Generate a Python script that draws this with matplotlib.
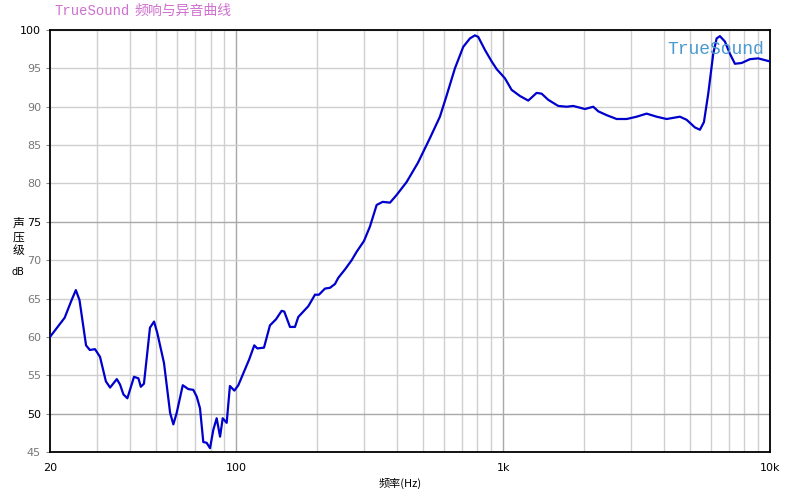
import matplotlib
matplotlib.use("Agg")
import matplotlib.pyplot as plt
from matplotlib.ticker import FixedLocator, NullFormatter

plt.rcParams['font.family'] = ['DejaVu Sans', 'Noto Sans CJK SC']

# frequency response (Hz, dB)
freq = [20, 22.7, 24.1, 25.0, 25.8, 27.3, 28.2, 29.5, 30.8, 32.4, 33.6, 35.6, 36.6,
        37.7, 39.0, 41.3, 42.9, 43.8, 45.0, 47.4, 49.1, 50.5, 53.5, 56.4, 58.0,
        59.7, 62.9, 66.0, 68.9, 71.0, 73.0, 75.1, 77.3, 79.6, 81.9, 84.3, 86.8,
        88.8, 91.9, 94.5, 98.2, 101.6, 111.7, 116.6, 119.7, 126.8, 133.5, 140.7,
        147.7, 151.1, 158.7, 165.7, 170.5, 185.9, 196.9, 203.8, 214.7, 224.2,
        234.1, 240.8, 255.2, 270.3, 282.2, 300.6, 316.6, 335.4, 353.2, 376.3,
        398.5, 434.6, 479, 531, 579, 614, 659, 708, 750, 783, 806, 854, 905, 945,
        1015, 1075, 1155, 1241, 1334, 1393, 1475, 1608, 1729, 1830, 2024, 2175,
        2271, 2442, 2662, 2902, 3162, 3447, 3758, 4097, 4596, 4869, 5231, 5462,
        5654, 5868, 6127, 6308, 6490, 6776, 7076, 7388, 7828, 8412, 9032, 10000]
spl = [60.0, 62.5, 64.8, 66.1, 64.8, 58.9, 58.3, 58.4, 57.4, 54.2, 53.4, 54.5, 53.8,
       52.5, 52.0, 54.8, 54.6, 53.5, 53.9, 61.2, 62.0, 60.5, 56.6, 50.1, 48.6,
       50.1, 53.7, 53.2, 53.1, 52.2, 50.7, 46.3, 46.2, 45.5, 47.9, 49.4, 47.0,
       49.4, 48.8, 53.6, 53.0, 53.7, 57.1, 58.9, 58.5, 58.6, 61.5, 62.3,
       63.4, 63.3, 61.3, 61.3, 62.6, 64.0, 65.5, 65.5, 66.3, 66.4,
       66.9, 67.7, 68.8, 70.0, 71.1, 72.5, 74.4, 77.2, 77.6, 77.5,
       78.5, 80.2, 82.7, 85.9, 88.7, 91.5, 95.0, 97.8, 98.9, 99.3, 99.1, 97.4, 95.9, 94.9,
       93.7, 92.2, 91.4, 90.8, 91.8, 91.7, 90.9, 90.1, 90.0, 90.1, 89.7, 90.0,
       89.4, 88.9, 88.4, 88.4, 88.7, 89.1, 88.7, 88.4, 88.7, 88.3, 87.3, 87.0,
       88.0, 91.7, 96.9, 98.9, 99.2, 98.5, 96.9, 95.6, 95.7, 96.2, 96.3, 95.9]

x_ticks = [20, 100, 1000, 10000]
x_labels = ['20', '100', '1k', '10k']
y_ticks = [45, 50, 55, 60, 65, 70, 75, 80, 85, 90, 95, 100]

fig = plt.figure(figsize=(8, 5), dpi=100)
ax = fig.add_axes([0.0625, 0.096, 0.9, 0.844])

ax.set_xscale('log')
ax.set_xlim(20, 10000)
ax.set_ylim(45, 100)

# grid: light minor lines, darker at decades and at 50/75 dB
minor_x = [f * d for d in (10, 100, 1000) for f in range(2, 10) if 20 < f * d < 10000 and f * d not in (100, 1000)]
for f in minor_x:
    ax.axvline(f, color='#cfcfcf', lw=1, zorder=0)
for f in (100, 1000):
    ax.axvline(f, color='#a8a8a8', lw=1, zorder=0)
for v in y_ticks:
    ax.axhline(v, color='#a8a8a8' if v in (50, 75) else '#cfcfcf', lw=1, zorder=0)

ax.plot(freq, spl, color='#0000cc', lw=1.6, zorder=3)

ax.xaxis.set_major_locator(FixedLocator(x_ticks))
ax.set_xticklabels(x_labels)
ax.xaxis.set_minor_locator(FixedLocator([]))
ax.xaxis.set_minor_formatter(NullFormatter())
ax.set_yticks(y_ticks)
ax.tick_params(axis='both', labelsize=8, length=3, color='#888888')
ax.tick_params(axis='x', length=0, pad=8)
for lab, v in zip(ax.get_yticklabels(), y_ticks):
    lab.set_color('#000000' if v in (50, 75, 100) else '#777777')

for s in ax.spines.values():
    s.set_color('black')
    s.set_linewidth(1.3)

fig.text(0.068, 0.978, 'TrueSound', color='#d070d0', fontsize=10,
         family=['Liberation Mono', 'Noto Sans CJK SC'], va='center')
fig.text(0.168, 0.978, '频响与异音曲线', color='#d070d0', fontsize=10,
         family=['Noto Sans CJK SC', 'DejaVu Sans'], va='center')

ax.text(0.992, 0.975, 'TrueSound', transform=ax.transAxes, color='#4a9ad0',
        fontsize=13, family=['Liberation Mono', 'DejaVu Sans Mono'], ha='right', va='top')

# vertical y label, one character per line
for ch, yy in zip('声压级', (0.554, 0.526, 0.498)):
    fig.text(0.023, yy, ch, fontsize=8.5, ha='center', va='center',
             family=['Noto Sans CJK SC', 'DejaVu Sans'])
fig.text(0.023, 0.456, 'dB', fontsize=7, ha='center', va='center')
fig.text(0.5, 0.034, '频率(Hz)', fontsize=8, ha='center', va='center',
         family=['Noto Sans CJK SC', 'DejaVu Sans'])

fig.savefig('out.png', dpi=100)
